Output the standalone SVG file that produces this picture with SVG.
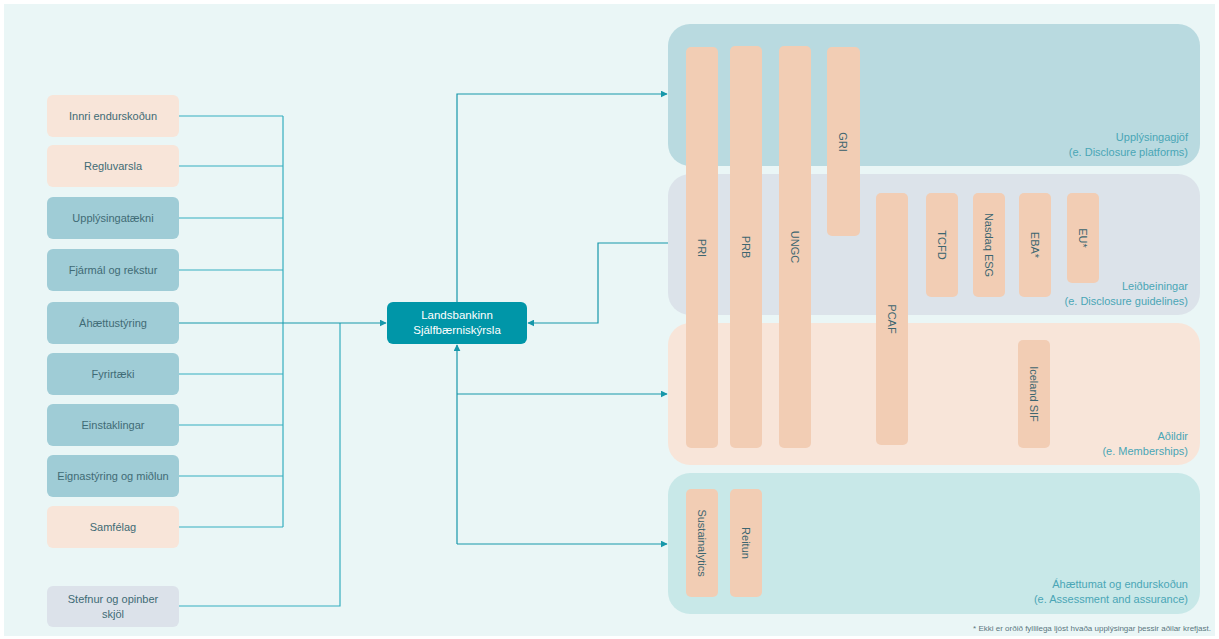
<svg xmlns="http://www.w3.org/2000/svg" width="1219" height="639" viewBox="0 0 1219 639">
<defs>
<marker id="arr" viewBox="0 0 10 10" refX="9" refY="5" markerWidth="7" markerHeight="7" markerUnits="userSpaceOnUse" orient="auto">
<path d="M0,0 L10,5 L0,10 z" fill="#1697aa"/>
</marker>
<style>
.peach{fill:#f8e5d9}
.teal{fill:#9fccd6}
.grey{fill:#dce2ea}
.bar{fill:#f2cdb4}
.lbl{font-family:"Liberation Sans",Arial,sans-serif;font-size:11px;fill:#3f6b75;text-anchor:middle}
.vlbl{font-family:"Liberation Sans",Arial,sans-serif;font-size:11px;fill:#3d6670;text-anchor:middle}
.clbl{font-family:"Liberation Sans",Arial,sans-serif;font-size:11px;fill:#4aa6b6;text-anchor:end}
.ln{fill:none;stroke:#35aebf;stroke-width:1.2}
.rl{fill:none;stroke:#1697aa;stroke-width:1.2}
</style>
</defs>
<rect width="1219" height="639" fill="#ffffff"/>
<rect x="4" y="4" width="1211" height="632" fill="#eaf6f6"/>

<g id="container-upplysingagjof">
<rect x="668" y="24" width="532" height="142" rx="22" fill="#b9dae0"/>
<text class="clbl" x="1188" y="141">Upplýsingagjöf</text>
<text class="clbl" x="1188" y="156">(e. Disclosure platforms)</text>
</g>
<g id="container-leidbeiningar">
<rect x="668" y="174" width="532" height="141" rx="22" fill="#dce3ea"/>
<text class="clbl" x="1188" y="290">Leiðbeiningar</text>
<text class="clbl" x="1188" y="305">(e. Disclosure guidelines)</text>
</g>
<g id="container-adildir">
<rect x="668" y="323" width="532" height="142" rx="22" fill="#f8e5d9"/>
<text class="clbl" x="1188" y="440">Aðildir</text>
<text class="clbl" x="1188" y="455">(e. Memberships)</text>
</g>
<g id="container-ahaettumat">
<rect x="668" y="473" width="532" height="141" rx="22" fill="#c8e8e8"/>
<text class="clbl" x="1188" y="588">Áhættumat og endurskoðun</text>
<text class="clbl" x="1188" y="603">(e. Assessment and assurance)</text>
</g>

<g id="bar-pri"><rect class="bar" x="686" y="47" width="32" height="401" rx="5"/><text class="vlbl" transform="translate(702,248) rotate(90)" y="4">PRI</text></g>
<g id="bar-prb"><rect class="bar" x="730" y="46" width="32" height="402" rx="5"/><text class="vlbl" transform="translate(746,247) rotate(90)" y="4">PRB</text></g>
<g id="bar-ungc"><rect class="bar" x="779" y="46" width="32" height="402" rx="5"/><text class="vlbl" transform="translate(795,247) rotate(90)" y="4">UNGC</text></g>
<g id="bar-gri"><rect class="bar" x="827" y="47" width="33" height="189" rx="5"/><text class="vlbl" transform="translate(843,142) rotate(90)" y="4">GRI</text></g>
<g id="bar-pcaf"><rect class="bar" x="876" y="193" width="32" height="252" rx="5"/><text class="vlbl" transform="translate(892,319) rotate(90)" y="4">PCAF</text></g>
<g id="bar-tcfd"><rect class="bar" x="926" y="193" width="32" height="104" rx="5"/><text class="vlbl" transform="translate(942,245) rotate(90)" y="4">TCFD</text></g>
<g id="bar-nasdaq"><rect class="bar" x="973" y="193" width="32" height="104" rx="5"/><text class="vlbl" transform="translate(989,245) rotate(90)" y="4">Nasdaq ESG</text></g>
<g id="bar-eba"><rect class="bar" x="1019" y="193" width="32" height="104" rx="5"/><text class="vlbl" transform="translate(1035,245) rotate(90)" y="4">EBA*</text></g>
<g id="bar-eu"><rect class="bar" x="1067" y="193" width="32" height="90" rx="5"/><text class="vlbl" transform="translate(1083,238) rotate(90)" y="4">EU*</text></g>
<g id="bar-icelandsif"><rect class="bar" x="1018" y="340" width="32" height="108" rx="5"/><text class="vlbl" transform="translate(1034,394) rotate(90)" y="4">Iceland SIF</text></g>
<g id="bar-sustainalytics"><rect class="bar" x="686" y="489" width="32" height="108" rx="5"/><text class="vlbl" transform="translate(702,543) rotate(90)" y="4">Sustainalytics</text></g>
<g id="bar-reitun"><rect class="bar" x="730" y="489" width="32" height="108" rx="5"/><text class="vlbl" transform="translate(746,543) rotate(90)" y="4">Reitun</text></g>

<g id="connectors">
<path class="ln" d="M178,116 H283 M178,166 H283 M178,218 H283 M178,270 H283 M178,374 H283 M178,425 H283 M178,476 H283 M178,527 H283 M283,116 V527 M178,606 H340 V323"/>
<path class="rl" d="M178,323 H386" marker-end="url(#arr)"/>
<path class="rl" d="M457,302 V94 H667" marker-end="url(#arr)"/>
<path class="rl" d="M457,544 V345" marker-end="url(#arr)"/>
<path class="rl" d="M457,544 H667" marker-end="url(#arr)"/>
<path class="rl" d="M457,394 H667" marker-end="url(#arr)"/>
<path class="rl" d="M668,243 H598 V323 H528" marker-end="url(#arr)"/>
</g>

<g id="node-innri"><rect class="peach" x="47" y="95" width="132" height="42" rx="6"/><text class="lbl" x="113" y="120">Innri endurskoðun</text></g>
<g id="node-regluvarsla"><rect class="peach" x="47" y="145" width="132" height="42" rx="6"/><text class="lbl" x="113" y="170">Regluvarsla</text></g>
<g id="node-upplysingataekni"><rect class="teal" x="47" y="197" width="132" height="42" rx="6"/><text class="lbl" x="113" y="222">Upplýsingatækni</text></g>
<g id="node-fjarmal"><rect class="teal" x="47" y="249" width="132" height="42" rx="6"/><text class="lbl" x="113" y="274">Fjármál og rekstur</text></g>
<g id="node-ahaettustyring"><rect class="teal" x="47" y="302" width="132" height="42" rx="6"/><text class="lbl" x="113" y="327">Áhættustýring</text></g>
<g id="node-fyrirtaeki"><rect class="teal" x="47" y="353" width="132" height="42" rx="6"/><text class="lbl" x="113" y="378">Fyrirtæki</text></g>
<g id="node-einstaklingar"><rect class="teal" x="47" y="404" width="132" height="42" rx="6"/><text class="lbl" x="113" y="429">Einstaklingar</text></g>
<g id="node-eignastyring"><rect class="teal" x="47" y="455" width="132" height="42" rx="6"/><text class="lbl" x="113" y="480">Eignastýring og miðlun</text></g>
<g id="node-samfelag"><rect class="peach" x="47" y="506" width="132" height="42" rx="6"/><text class="lbl" x="113" y="531">Samfélag</text></g>
<g id="node-stefnur"><rect class="grey" x="47" y="586" width="132" height="41" rx="6"/><text class="lbl" x="113" y="603">Stefnur og opinber</text><text class="lbl" x="113" y="618">skjöl</text></g>

<g id="node-landsbankinn">
<rect x="387" y="302" width="140" height="42" rx="6" fill="#0096a8"/>
<text x="457" y="319" font-family="Liberation Sans, Arial, sans-serif" font-size="11.5" fill="#ffffff" text-anchor="middle">Landsbankinn</text>
<text x="457" y="334" font-family="Liberation Sans, Arial, sans-serif" font-size="11.5" fill="#ffffff" text-anchor="middle">Sjálfbærniskýrsla</text>
</g>

<text x="1211" y="631" font-family="Liberation Sans, Arial, sans-serif" font-size="8" fill="#5a7680" text-anchor="end">* Ekki er orðið fyllilega ljóst hvaða upplýsingar þessir aðilar krefjast.</text>
</svg>
